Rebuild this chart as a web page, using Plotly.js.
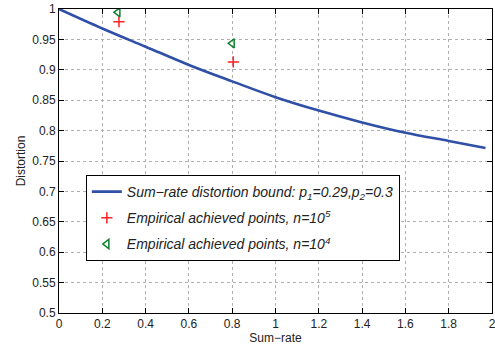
<!DOCTYPE html>
<html>
<head>
<meta charset="utf-8">
<script src="https://cdn.plot.ly/plotly-3.0.1.min.js"></script>
<style>html,body{margin:0;padding:0;background:#fff;}#chart{width:495px;height:347px;}</style>
</head>
<body>
<div id="chart"></div>
<script>
// Bound curve
const boundRate = [0, 0.2, 0.4, 0.6, 0.8, 1.0, 1.2, 1.4, 1.6, 1.8, 1.97];
const boundDist = [1, 0.968, 0.938, 0.908, 0.881, 0.855, 0.833, 0.8135, 0.7965, 0.783, 0.7715];
// Empirical points n=10^5
const emp5Rate = [0.277, 0.805];
const emp5Dist = [0.979, 0.913];
// Empirical points n=10^4
const emp4Rate = [0.272, 0.80];
const emp4Dist = [0.9945, 0.9435];

const xTicks = [0, 0.2, 0.4, 0.6, 0.8, 1, 1.2, 1.4, 1.6, 1.8, 2];
const yTicks = [0.5, 0.55, 0.6, 0.65, 0.7, 0.75, 0.8, 0.85, 0.9, 0.95, 1];

const traces = [
  {x: boundRate, y: boundDist, mode: 'lines', type: 'scatter', legendgroup: 'a',
   line: {color: '#3050a8', width: 2.6, shape: 'spline', smoothing: 1},
   name: 'Sum\u2212rate distortion bound: p<sub>1</sub>=0.29,p<sub>2</sub>=0.3'},
  {x: emp5Rate, y: emp5Dist, mode: 'markers', type: 'scatter', legendgroup: 'b',
   marker: {symbol: 'cross-thin-open', size: 8, color: '#ff2020', line: {color: '#ff2020', width: 1.5}},
   name: 'Empirical achieved points, n=10<sup>5</sup>'},
  {x: emp4Rate, y: emp4Dist, mode: 'markers', type: 'scatter', legendgroup: 'c',
   marker: {symbol: 'triangle-left-open', size: 8, color: '#108030', line: {color: '#108030', width: 1.5}},
   name: 'Empirical achieved points, n=10<sup>4</sup>'}
];

const axisCommon = {
  showline: true, linecolor: '#000', linewidth: 1, mirror: 'ticks',
  ticks: 'inside', ticklen: 5, tickcolor: '#000',
  showgrid: true, gridcolor: '#b0b0b0', griddash: 'dot', gridwidth: 1,
  zeroline: false, ticklabeloverflow: 'allow',
  tickfont: {family: 'Liberation Sans, Arial, sans-serif', size: 12, color: '#222'}
};

const layout = {
  width: 495, height: 347,
  margin: {l: 59, r: 3, t: 9, b: 34},
  paper_bgcolor: '#fff', plot_bgcolor: '#fff',
  showlegend: true,
  xaxis: Object.assign({}, axisCommon, {
    range: [0, 2], tickvals: xTicks, ticktext: xTicks.map(String),
    title: {text: 'Sum\u2212rate', standoff: 2, font: {family: 'Liberation Sans, Arial, sans-serif', size: 12, color: '#222'}}
  }),
  yaxis: Object.assign({}, axisCommon, {
    range: [0.5, 1], tickvals: yTicks, ticktext: yTicks.map(String),
    title: {text: 'Distortion', standoff: 4, font: {family: 'Liberation Sans, Arial, sans-serif', size: 12, color: '#222'}}
  }),
  legend: {
    x: 0.062, y: 0.454, xanchor: 'left', yanchor: 'top',
    bgcolor: '#fff', bordercolor: '#000', borderwidth: 1,
    font: {family: 'Liberation Sans, Arial, sans-serif', size: 14, color: '#222', style: 'italic'},
    itemwidth: 30, traceorder: 'grouped', tracegroupgap: 5
  }
};

Plotly.newPlot('chart', traces, layout, {displayModeBar: false, staticPlot: true});
</script>
</body>
</html>
